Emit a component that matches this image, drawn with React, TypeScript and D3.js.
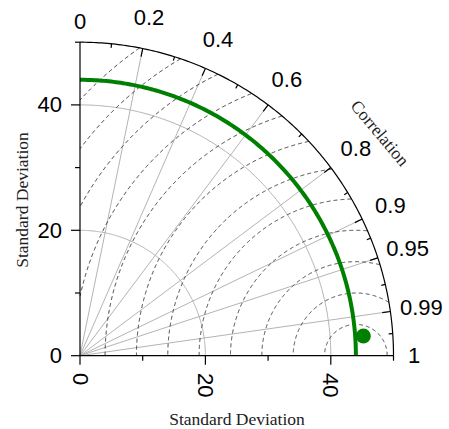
import React from "react";
import * as d3 from "d3";

// Taylor diagram values
const maxStd = 50;
const refStd = 44;
const stdTicks = [0, 10, 20, 30, 40, 50];
const stdLabels = [0, 20, 40];
const stdGrid = [20, 40];
const rmsLevels = [5, 10, 15, 20, 25, 30, 35, 40, 45, 50, 55, 60];
const corrLabels = [0, 0.2, 0.4, 0.6, 0.8, 0.9, 0.95, 0.99, 1];
const corrLines = [0.2, 0.4, 0.6, 0.8, 0.9, 0.95, 0.99];
const modelStd = [45.3];
const modelCorr = [0.9976];

const W = 449;
const H = 429;
const cx = 80; // origin
const cy = 355.7;

const App = () => {
  const r = d3.scaleLinear().domain([0, maxStd]).range([0, 313.5]);
  // correlation -> angle for lineRadial (0 = up, pi/2 = right)
  const ang = (c: number) => Math.asin(c);
  const px = (s: number, c: number) => cx + r(s) * c;
  const py = (s: number, c: number) => cy - r(s) * Math.sqrt(Math.max(0, 1 - c * c));

  const radial = d3.lineRadial<number>().angle((a) => a).curve(d3.curveLinear);
  const quarter = d3.range(0, 181).map((i) => (i / 180) * (Math.PI / 2));
  const arcPath = (s: number) => radial.radius(r(s))(quarter) as string;

  // centred RMS arcs, clipped to the quadrant
  const rmsLine = d3
    .line<[number, number]>()
    .defined((p) => p[0] >= 0 && p[1] >= 0 && Math.hypot(p[0], p[1]) <= maxStd + 0.01)
    .x((p) => cx + r(p[0]))
    .y((p) => cy - r(p[1]));
  const rmsPath = (e: number) =>
    rmsLine(
      d3.range(0, 1001).map((i) => {
        const phi = (i / 1000) * Math.PI;
        return [refStd + e * Math.cos(phi), e * Math.sin(phi)] as [number, number];
      })
    ) as string;

  // minor ticks halfway (in angle) between labelled correlations
  const corrMinor = d3.pairs(corrLabels).map(([a, b]) => Math.sin((ang(a) + ang(b)) / 2));

  const sansFont = "'Liberation Sans', Arial, sans-serif";
  const serifFont = "'Liberation Serif', 'Times New Roman', serif";

  return (
    <svg width={W} height={H} style={{ position: "absolute", left: 0, top: 0, background: "#fff" }}>
      {/* std dev grid arcs */}
      <g transform={`translate(${cx},${cy})`} fill="none" stroke="#b4b4b4" strokeWidth={1}>
        {stdGrid.map((s) => (
          <path key={s} d={arcPath(s)} />
        ))}
      </g>
      {/* correlation rays */}
      <g stroke="#b4b4b4" strokeWidth={1}>
        {corrLines.map((c) => (
          <line key={c} x1={cx} y1={cy} x2={px(maxStd, c)} y2={py(maxStd, c)} />
        ))}
      </g>
      {/* RMS difference arcs */}
      <g fill="none" stroke="#2a2a2a" strokeWidth={0.9} strokeDasharray="4,3">
        {rmsLevels.map((e) => (
          <path key={e} d={rmsPath(e)} />
        ))}
      </g>
      {/* reference std arc */}
      <path
        transform={`translate(${cx},${cy})`}
        d={arcPath(refStd)}
        fill="none"
        stroke="#008000"
        strokeWidth={4}
      />
      {/* outer arc */}
      <path
        transform={`translate(${cx},${cy})`}
        d={arcPath(maxStd)}
        fill="none"
        stroke="#000"
        strokeWidth={1.2}
      />
      {/* correlation ticks */}
      <g stroke="#000" strokeWidth={1.2}>
        {corrLabels.slice(1, -1).map((c) => (
          <line key={c} x1={px(maxStd, c)} y1={py(maxStd, c)} x2={px(maxStd - 1.3, c)} y2={py(maxStd - 1.3, c)} />
        ))}
        {corrMinor.map((c) => (
          <line key={c} x1={px(maxStd, c)} y1={py(maxStd, c)} x2={px(maxStd - 0.65, c)} y2={py(maxStd - 0.65, c)} />
        ))}
      </g>
      {/* correlation labels */}
      <g fontFamily={sansFont} fontSize={22} fill="#000" textAnchor="middle" dominantBaseline="central">
        {corrLabels.map((c, i) => {
          const rr = i === 0 || i === corrLabels.length - 1 ? 53.3 : 55;
          return (
            <text key={c} x={px(rr, c)} y={py(rr, c)}>
              {c}
            </text>
          );
        })}
      </g>
      <text
        transform={`translate(380,133) rotate(50)`}
        fontFamily={serifFont}
        fontSize={17.5}
        textAnchor="middle"
        dominantBaseline="central"
        fill="#222"
      >
        Correlation
      </text>

      {/* y axis */}
      <line x1={cx} y1={cy} x2={cx} y2={cy - r(maxStd)} stroke="#000" strokeWidth={1.2} />
      {stdTicks.map((t) => (
        <line
          key={"y" + t}
          x1={cx - (stdLabels.includes(t) ? 9 : 5)}
          x2={cx}
          y1={cy - r(t)}
          y2={cy - r(t)}
          stroke="#000"
          strokeWidth={1.2}
        />
      ))}
      {stdLabels.map((t) => (
        <text
          key={"yl" + t}
          x={62}
          y={cy - r(t)}
          textAnchor="end"
          dominantBaseline="central"
          fontFamily={sansFont}
          fontSize={22}
        >
          {t}
        </text>
      ))}
      {/* x axis */}
      <line x1={cx} y1={cy} x2={cx + r(maxStd)} y2={cy} stroke="#000" strokeWidth={1.2} />
      {stdTicks.map((t) => (
        <line
          key={"x" + t}
          x1={cx + r(t)}
          x2={cx + r(t)}
          y1={cy}
          y2={cy + (stdLabels.includes(t) ? 9 : 5)}
          stroke="#000"
          strokeWidth={1.2}
        />
      ))}
      {stdLabels.map((t) => (
        <text
          key={"xl" + t}
          transform={`translate(${cx + r(t)},${373}) rotate(90)`}
          textAnchor="start"
          dominantBaseline="central"
          fontFamily={sansFont}
          fontSize={22}
        >
          {t}
        </text>
      ))}
      <text x={237} y={419} textAnchor="middle" dominantBaseline="central" fontFamily={serifFont} fontSize={17.5} fill="#222">
        Standard Deviation
      </text>
      <text
        transform={`translate(22,200) rotate(-90)`}
        textAnchor="middle"
        dominantBaseline="central"
        fontFamily={serifFont}
        fontSize={17.5}
        fill="#222"
      >
        Standard Deviation
      </text>

      {/* model point */}
      {modelStd.map((s, i) => (
        <circle key={i} cx={px(s, modelCorr[i])} cy={py(s, modelCorr[i])} r={7.5} fill="#008000" />
      ))}
    </svg>
  );
};

export default App;
